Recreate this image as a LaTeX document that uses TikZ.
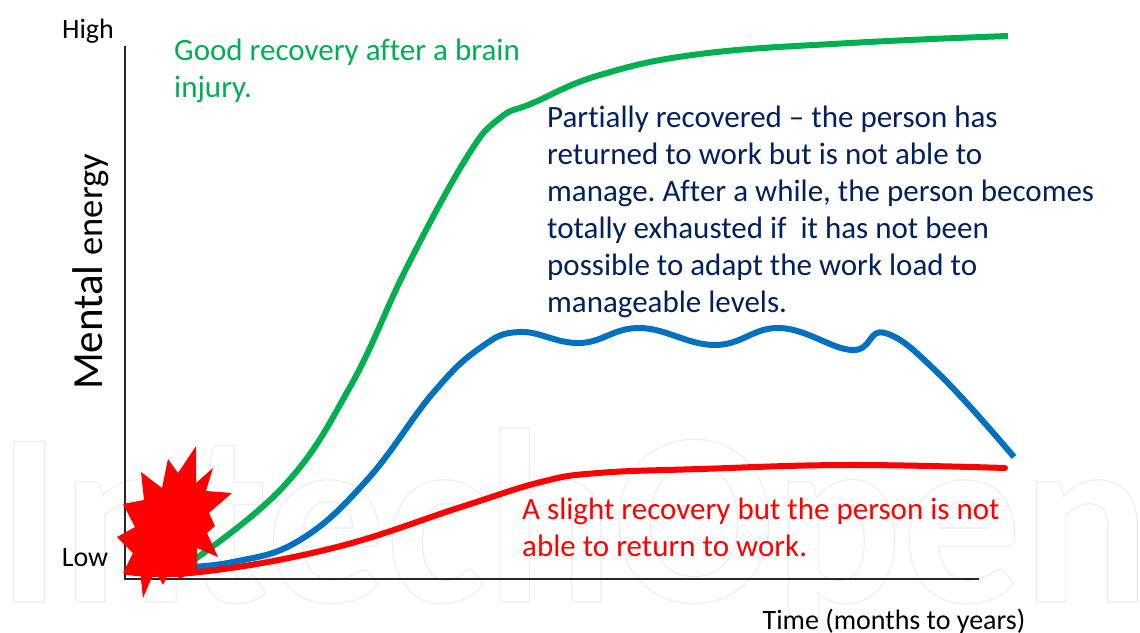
\documentclass[tikz,border=0pt]{standalone}
\usepackage{fontspec}
\setmainfont[Ligatures=NoCommon]{Carlito}
\newfontfamily\wmfont{Carlito}
\definecolor{cgreen}{RGB}{0,176,80}
\definecolor{cblue}{RGB}{0,112,192}
\definecolor{cnavy}{RGB}{0,32,96}
\definecolor{axisc}{RGB}{40,40,40}
\tikzset{curve/.style={line width=6pt,line join=round},
 lab/.style={anchor=north west,inner sep=0pt,align=left,font=\frenchspacing\fontsize{31pt}{37pt}\selectfont},
 side/.style={anchor=center,inner sep=0pt,font=\fontsize{28pt}{32pt}\selectfont}}
\begin{document}
\begin{tikzpicture}[x=1pt,y=-1pt]
\useasboundingbox (0,0) rectangle (1140,632);
% watermark: outlined text
\begin{scope}
\clip (0,0) rectangle (1140,632);
\node[anchor=base west,inner sep=0pt,xscale=0.96,font=\wmfont\bfseries\fontsize{248pt}{248pt}\selectfont] (wm) at (-3,602) {\special{pdf:code 1 Tr 1.2 w 0.93 0.93 0.93 RG}IntechOpen\special{pdf:code 0 Tr}};
\end{scope}
% axes
\coordinate (o) at (125,579);
\coordinate (ytop) at (125,46);
\coordinate (xend) at (979,579);
\draw[axisc,line width=1.4pt] (ytop) -- (o) -- (xend);
% curves
\draw[curve,cgreen] plot[smooth,tension=0.7] coordinates {(185,566) (283,487) (350,387) (407,267) (467,157) (500,118) (533,103) (600,75) (700,54) (850,43) (1008,36)};
\draw[curve,cblue] plot[smooth,tension=0.7] coordinates {(170,568) (233,562) (300,540) (367,480) (433,393) (480,348) (520,332) (580,343) (640,328) (715,345) (780,328) (852,350) (885,333) (940,375) (1014,457)};
\draw[curve,red,line cap=round] plot[smooth,tension=0.7] coordinates {(127,572) (200,572) (333,548) (461,507) (541,482) (598,473) (700,469) (848,465) (1005,468)};
% burst
\fill[red] (196,446) -- (196,483) -- (213,468) -- (206,491) -- (232,493) -- (209,513) -- (215,526) -- (207,533) -- (218,557) -- (197,548) -- (197,569) -- (180,579) -- (170,570) -- (163,585) -- (155,570) -- (143,598) -- (140,570) -- (123,573) -- (133,553) -- (117,537) -- (135,527) -- (123,504) -- (144,500) -- (141,472) -- (162,488) -- (168,459) -- (178,473) -- cycle;
% texts
\node[side] (high) at (88,31) {High};
\node[side] (low) at (85,558) {Low};
\node[anchor=center,inner sep=0pt,rotate=90,font=\fontsize{43pt}{48pt}\selectfont] (ylab) at (91,272) {Mental {\fontsize{36.5pt}{40pt}\selectfont energy}};
\node[side] (xlab) at (894,622) {Time (months to years)};
\node[lab,text=cgreen] (tg) at (174,39) {Good recovery after a brain\\injury.};
\node[lab,text=cnavy] (tb) at (547,106) {Partially recovered – the person has\\returned to work but is not able to\\manage. After a while, the person becomes\\totally exhausted if\ \ it has not been\\possible to adapt the work load to\\manageable levels.};
\node[lab,text=red] (tr) at (522,498) {A slight recovery but the person is not\\able to return to work.};
\end{tikzpicture}
\end{document}
